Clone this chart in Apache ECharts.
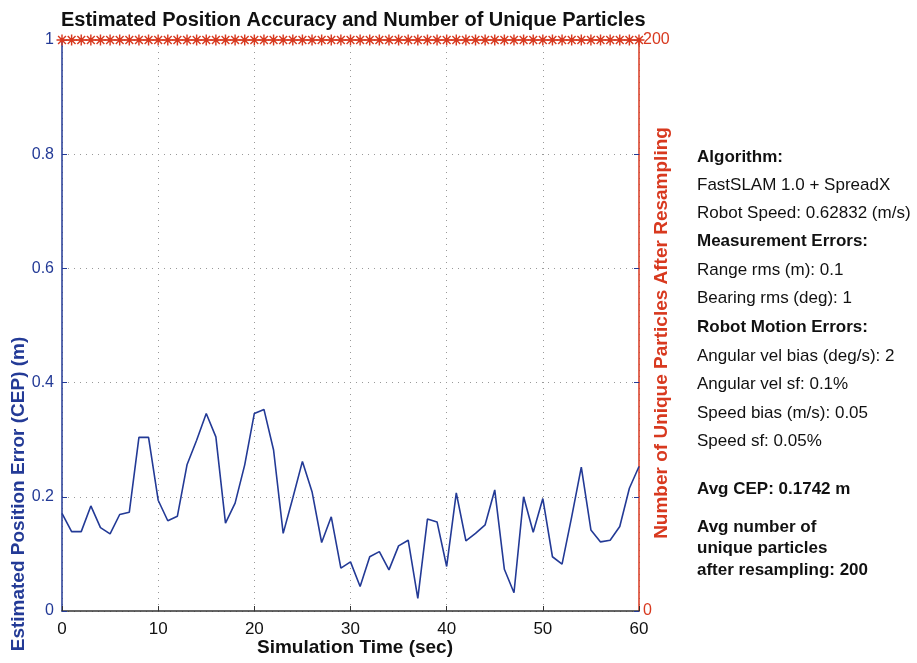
<!DOCTYPE html>
<html>
<head>
<meta charset="utf-8">
<script src="https://cdn.jsdelivr.net/npm/echarts@6/dist/echarts.min.js"></script>
<style>
html,body{margin:0;padding:0;background:#fff;}
#chart{width:917px;height:663px;}
</style>
</head>
<body>
<div id="chart"></div>
<script>
// ---- data ----
var timeSec = [0,1,2,3,4,5,6,7,8,9,10,11,12,13,14,15,16,17,18,19,20,21,22,23,24,25,26,27,28,29,30,31,32,33,34,35,36,37,38,39,40,41,42,43,44,45,46,47,48,49,50,51,52,53,54,55,56,57,58,59,60];
var cepMeters = [0.171,0.139,0.139,0.184,0.146,0.135,0.169,0.173,0.304,0.304,0.194,0.158,0.166,0.256,0.299,0.346,0.305,0.154,0.189,0.256,0.346,0.353,0.282,0.136,0.198,0.262,0.209,0.120,0.165,0.075,0.086,0.043,0.095,0.104,0.072,0.114,0.124,0.022,0.161,0.156,0.078,0.207,0.123,0.136,0.151,0.212,0.073,0.032,0.200,0.138,0.197,0.095,0.082,0.165,0.252,0.142,0.121,0.124,0.148,0.215,0.253];
var uniqueParticles = [200,200,200,200,200,200,200,200,200,200,200,200,200,200,200,200,200,200,200,200,200,200,200,200,200,200,200,200,200,200,200,200,200,200,200,200,200,200,200,200,200,200,200,200,200,200,200,200,200,200,200,200,200,200,200,200,200,200,200,200,200];
var leftTicks = [0,0.2,0.4,0.6,0.8,1];
var rightTicks = [0,200];
var titleText = 'Estimated Position Accuracy and Number of Unique Particles';
var xName = 'Simulation Time (sec)';
var leftName = 'Estimated Position Error (CEP) (m)';
var rightName = 'Number of Unique Particles After Resampling';
var infoLines = [
  ['Algorithm:', true],
  ['FastSLAM 1.0 + SpreadX', false],
  ['Robot Speed: 0.62832 (m/s)', false],
  ['Measurement Errors:', true],
  ['Range rms (m): 0.1', false],
  ['Bearing rms (deg): 1', false],
  ['Robot Motion Errors:', true],
  ['Angular vel bias (deg/s): 2', false],
  ['Angular vel sf: 0.1%', false],
  ['Speed bias (m/s): 0.05', false],
  ['Speed sf: 0.05%', false],
  ['Avg CEP: 0.1742 m', true],
  ['Avg number of', true],
  ['unique particles', true],
  ['after resampling: 200', true]
];
var infoY = [157,185,213,241,270,298,327,356,384,413,441,489,527,548,570];

// ---- styling ----
var FONT = '"Liberation Sans", Arial, Helvetica, sans-serif';
var BLUE = '#233a96';
var RED = '#d8391f';
var asterisk = 'path://M-1.3 -10 L1.3 -10 L1.3 10 L-1.3 10 Z M-10 -1.3 L10 -1.3 L10 1.3 L-10 1.3 Z M-6.2 -8 L8 6.2 L6.2 8 L-8 -6.2 Z M6.2 -8 L8 -6.2 L-6.2 8 L-8 6.2 Z';

var cepData = timeSec.map(function(t,i){return [t, cepMeters[i]];});
var partData = timeSec.map(function(t,i){return [t, uniqueParticles[i]];});

var graphics = [
  {type:'text', left:61, top:10, style:{text:titleText, font:'bold 20px '+FONT, fill:'#111'}},
  {type:'text', x:19, y:494, rotation:Math.PI/2, style:{text:leftName, font:'bold 19px '+FONT, fill:BLUE, align:'center', verticalAlign:'middle'}},
  {type:'text', x:662, y:333, rotation:Math.PI/2, style:{text:rightName, font:'bold 19px '+FONT, fill:RED, align:'center', verticalAlign:'middle'}},
  {type:'text', x:355, y:648, style:{text:xName, font:'bold 19px '+FONT, fill:'#111', align:'center', verticalAlign:'middle'}}
];
infoLines.forEach(function(l,i){
  graphics.push({type:'text', x:697, y:infoY[i], style:{text:l[0], font:(l[1]?'bold ':'')+'17px '+FONT, fill:'#111', verticalAlign:'middle'}});
});

var chart = echarts.init(document.getElementById('chart'), null, {renderer:'canvas'});
chart.setOption({
  backgroundColor:'#fff',
  animation:false,
  grid:{left:62, right:278, top:40, bottom:52, containLabel:false},
  graphic: graphics,
  xAxis:{
    type:'value', min:0, max:60, interval:10,
    axisLine:{show:true, onZero:false, lineStyle:{color:'#333', width:1.5}},
    axisTick:{show:true, inside:true, length:5, lineStyle:{color:'#333'}},
    axisLabel:{color:'#111', fontSize:17, fontFamily:FONT, margin:10},
    splitLine:{show:true, lineStyle:{color:'#999', type:[1,5], width:1}}
  },
  yAxis:[
    {
      type:'value', min:0, max:1, interval:0.2, position:'left',
      axisLine:{show:true, lineStyle:{color:BLUE, width:1.5}},
      axisTick:{show:true, inside:true, length:5, lineStyle:{color:BLUE}},
      axisLabel:{color:BLUE, fontSize:16, fontFamily:FONT, margin:8,
        formatter:function(v){return String(Math.round(v*10)/10);}},
      splitLine:{show:true, lineStyle:{color:'#999', type:[1,5], width:1}}
    },
    {
      type:'value', min:0, max:200, interval:200, position:'right',
      axisLine:{show:true, lineStyle:{color:RED, width:1.5}},
      axisTick:{show:true, inside:true, length:5, lineStyle:{color:RED}},
      axisLabel:{color:RED, fontSize:16, fontFamily:FONT, margin:4},
      splitLine:{show:false}
    },
    {
      type:'value', min:0, max:1, interval:0.2, position:'right',
      axisLine:{show:false},
      axisTick:{show:true, inside:true, length:5, lineStyle:{color:BLUE}},
      axisLabel:{show:false},
      splitLine:{show:false}
    }
  ],
  series:[
    {
      type:'line', yAxisIndex:0, data:cepData, showSymbol:false, symbol:'none',
      lineStyle:{color:BLUE, width:1.6}, z:3
    },
    {
      type:'line', yAxisIndex:1, data:partData, symbol:asterisk, symbolSize:11, showSymbol:true,
      itemStyle:{color:RED}, lineStyle:{color:RED, width:1.2}, z:4, clip:false
    }
  ]
});
</script>
</body>
</html>
